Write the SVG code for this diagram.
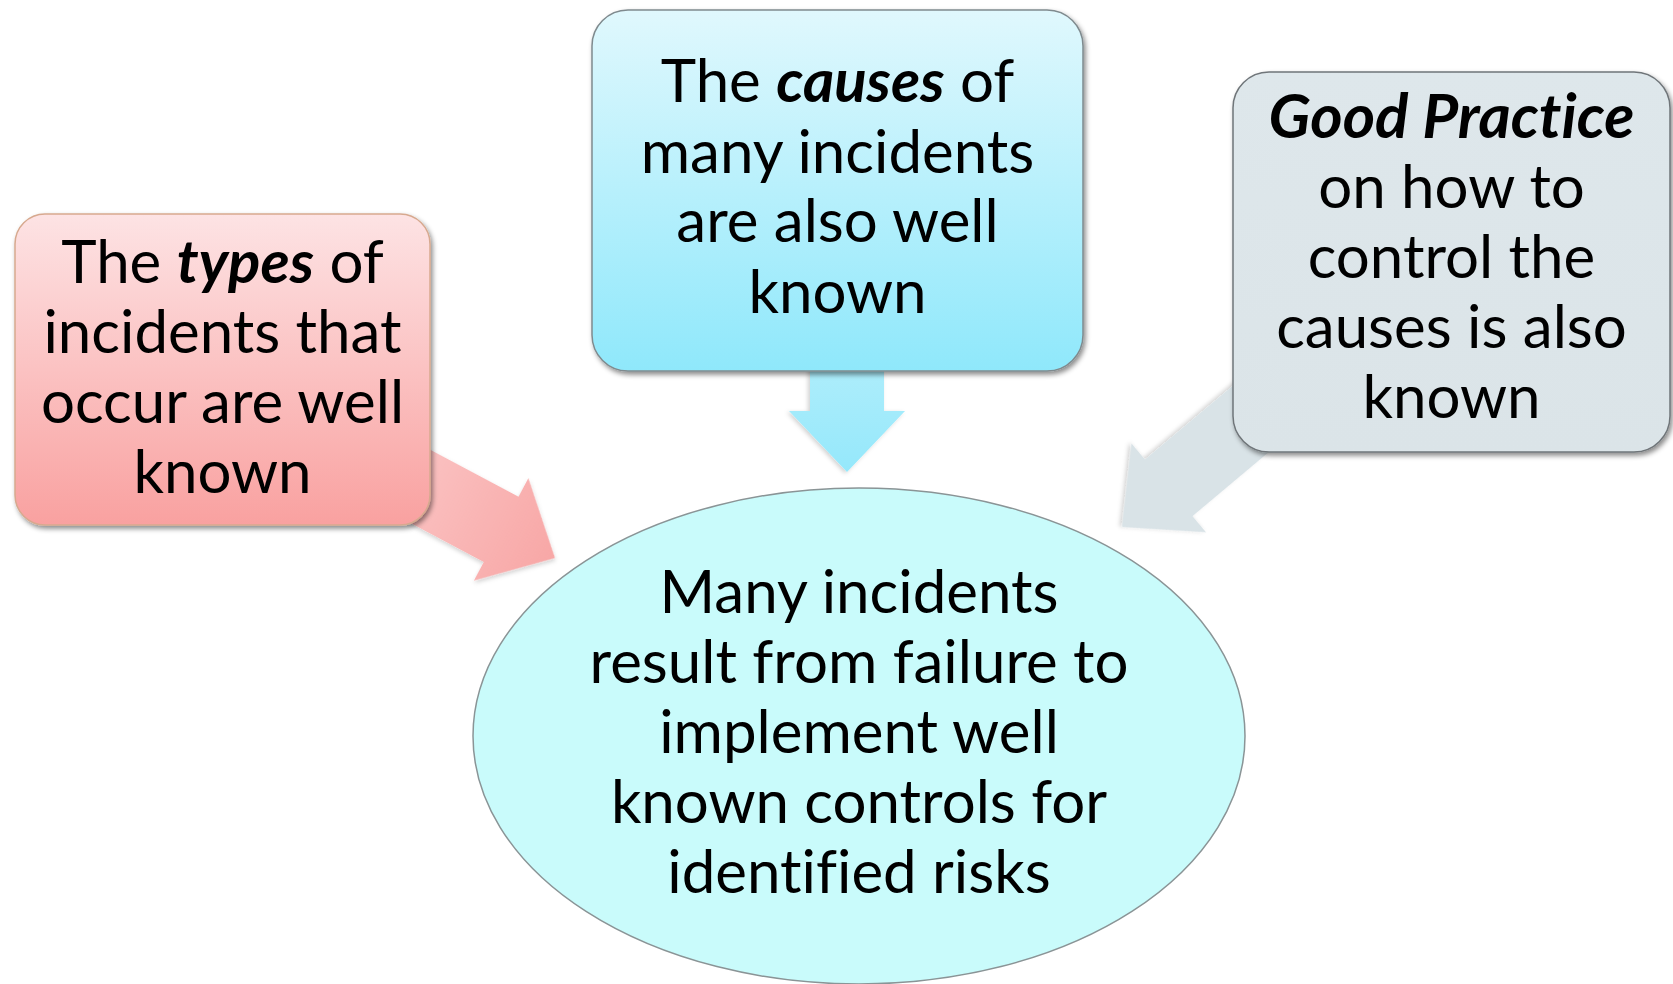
<svg xmlns="http://www.w3.org/2000/svg" width="1673" height="984" viewBox="0 0 1673 984">
  <style>
    .label { font-family: Lato, "Open Sans", "Liberation Sans", sans-serif; font-size: 60px; fill: #000; text-anchor: middle; font-variant-ligatures: none; font-feature-settings: "liga" 0, "clig" 0; }
    .em { font-weight: bold; font-style: italic; }
    .box { stroke-width: 1.5; filter: url(#shadow); }
  </style>
  <defs>
    <filter id="shadow" x="-10%" y="-10%" width="125%" height="130%">
      <feDropShadow dx="2" dy="3" stdDeviation="2.5" flood-color="#000" flood-opacity="0.45"/>
    </filter>
    <filter id="softShadow" x="-10%" y="-10%" width="125%" height="130%">
      <feDropShadow dx="1.5" dy="2" stdDeviation="2" flood-color="#000" flood-opacity="0.18"/>
    </filter>
    <linearGradient id="pinkFill" x1="0" y1="0" x2="0" y2="1">
      <stop offset="0" stop-color="#fde3e4"/>
      <stop offset="1" stop-color="#f9a1a0"/>
    </linearGradient>
    <linearGradient id="cyanFill" x1="0" y1="0" x2="0" y2="1">
      <stop offset="0" stop-color="#e0f8fd"/>
      <stop offset="1" stop-color="#8fe8fb"/>
    </linearGradient>
    <linearGradient id="greyFill" x1="0" y1="0" x2="0" y2="1">
      <stop offset="0" stop-color="#dee7eb"/>
      <stop offset="1" stop-color="#dbe4e8"/>
    </linearGradient>
    <linearGradient id="pinkArrow" x1="0" y1="0" x2="1" y2="0">
      <stop offset="0" stop-color="#fbcaca"/>
      <stop offset="1" stop-color="#f8a7a6"/>
    </linearGradient>
    <linearGradient id="cyanArrow" x1="0" y1="0" x2="1" y2="0">
      <stop offset="0" stop-color="#c8f3fc"/>
      <stop offset="1" stop-color="#95e8fb"/>
    </linearGradient>
    <!-- block arrow pointing along +x, tip at the origin -->
    <polygon id="blockArrow" points="-220,-37 -61,-37 -61,-58 0,0 -61,58 -61,37 -220,37"/>
  </defs>

  <rect width="1673" height="984" fill="#ffffff"/>

  <!-- connectors: wide block arrows, drawn beneath the boxes -->
  <g id="connectors">
    <use href="#blockArrow" fill="url(#pinkArrow)" filter="url(#softShadow)" transform="translate(555,558) rotate(28)"/>
    <use href="#blockArrow" fill="url(#cyanArrow)" filter="url(#softShadow)" transform="translate(847,472) rotate(90)"/>
    <use href="#blockArrow" fill="#d9e3e7" filter="url(#softShadow)" transform="translate(1122,527) rotate(140)"/>
  </g>

  <g id="node-types">
    <rect class="box" x="15" y="214" width="415" height="311" rx="30" fill="url(#pinkFill)" stroke="#d7a98f"/>
    <text class="label" x="222.5" y="283">The <tspan class="em">types</tspan> of</text>
    <text class="label" x="222.5" y="353">incidents that</text>
    <text class="label" x="222.5" y="423">occur are well</text>
    <text class="label" x="222.5" y="493">known</text>
  </g>

  <g id="node-causes">
    <rect class="box" x="592" y="10" width="491" height="361" rx="36" fill="url(#cyanFill)" stroke="#7f8a8e"/>
    <text class="label" x="837.5" y="102">The <tspan class="em">causes</tspan> of</text>
    <text class="label" x="837.5" y="173">many incidents</text>
    <text class="label" x="837.5" y="242">are also well</text>
    <text class="label" x="837.5" y="313">known</text>
  </g>

  <g id="node-practice">
    <rect class="box" x="1233" y="72" width="437" height="380" rx="36" fill="url(#greyFill)" stroke="#6f7579"/>
    <text class="label" x="1451.5" y="138"><tspan class="em" font-size="62">Good Practice</tspan></text>
    <text class="label" x="1451.5" y="208">on how to</text>
    <text class="label" x="1451.5" y="278">control the</text>
    <text class="label" x="1451.5" y="348">causes is also</text>
    <text class="label" x="1451.5" y="418">known</text>
  </g>

  <g id="node-failure">
    <ellipse cx="859" cy="736" rx="386" ry="248" fill="#c9fbfb" stroke="#8a9496" stroke-width="1.5"/>
    <text class="label" x="859" y="613">Many incidents</text>
    <text class="label" x="859" y="683">result from failure to</text>
    <text class="label" x="859" y="753">implement well</text>
    <text class="label" x="859" y="823">known controls for</text>
    <text class="label" x="859" y="893">identified risks</text>
  </g>
</svg>
